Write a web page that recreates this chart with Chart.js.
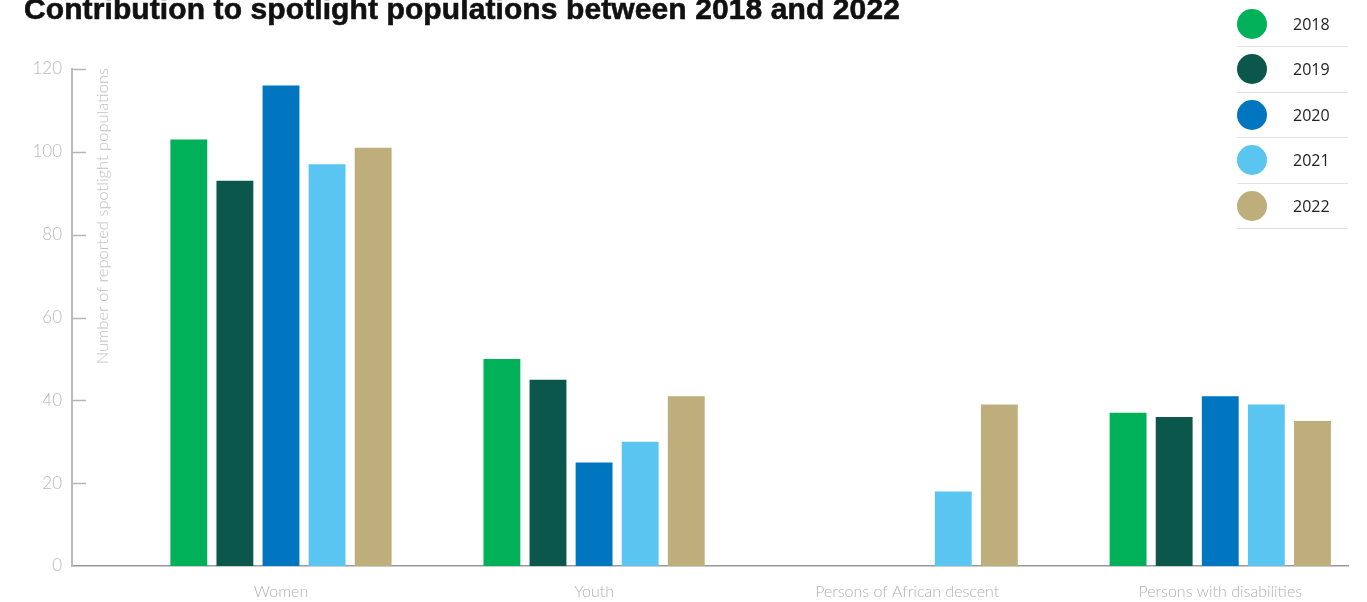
<!DOCTYPE html>
<html>
<head>
<meta charset="utf-8">
<script src="https://cdn.jsdelivr.net/npm/chart.js@4.4.1/dist/chart.umd.min.js"></script>
<style>
  html, body { margin: 0; padding: 0; background: #fff; width: 1367px; height: 602px; overflow: hidden; }
  #wrap { position: relative; width: 1367px; height: 602px; }
  #title { position: absolute; left: 24px; top: -6px; margin: 0; font-family: "Liberation Sans", Arial, sans-serif; font-weight: 700; font-size: 30px; line-height: 30px; letter-spacing: 0.1px; color: #111; white-space: nowrap; -webkit-text-stroke: 0.6px #111; }
  #legend { position: absolute; left: 1237px; top: 1.5px; width: 111px; }
  .lg-row { display: flex; align-items: center; height: 45.5px; border-bottom: 1.5px solid #e2e2de; box-sizing: border-box; }
  .lg-dot { width: 30px; height: 30px; border-radius: 50%; margin-right: 26px; }
  .lg-txt { font-family: "Open Sans", sans-serif; font-size: 16px; color: #222; }
</style>
</head>
<body>
<div id="wrap">
  <canvas id="c" width="1367" height="602"></canvas>
  <h1 id="title">Contribution to spotlight populations between 2018 and 2022</h1>
  <div id="legend"></div>
</div>
<script>
const categories = ['Women', 'Youth', 'Persons of African descent', 'Persons with disabilities'];
const years = ['2018', '2019', '2020', '2021', '2022'];
const values2018 = [103, 50, null, 37];
const values2019 = [93, 45, null, 36];
const values2020 = [116, 25, null, 41];
const values2021 = [97, 30, 18, 39];
const values2022 = [101, 41, 39, 35];
const yTicks = [0, 20, 40, 60, 80, 100, 120];
const colors = ['#00b159', '#0c574c', '#0075c0', '#5bc5f2', '#bdae7c'];
const yTitle = 'Number of reported spotlight populations';

const seriesValues = [values2018, values2019, values2020, values2021, values2022];

const datasets = years.map((y, k) => ({
  label: y,
  data: seriesValues[k].map((v, i) => ({ x: i, y: v })),
  backgroundColor: colors[k],
  borderWidth: 0,
  categoryPercentage: 0.736,
  barPercentage: 0.80
}));

const axisDecor = {
  id: 'axisDecor',
  afterDraw(chart) {
    const ctx = chart.ctx;
    const ys = chart.scales.y;
    const ca = chart.chartArea;
    ctx.save();
    ctx.strokeStyle = '#b5b5b5';
    ctx.lineWidth = 1.5;
    yTicks.forEach(t => {
      if (t === 0) return;
      const py = Math.round(ys.getPixelForValue(t)) + 0.5;
      ctx.beginPath();
      ctx.moveTo(ca.left, py);
      ctx.lineTo(ca.left + 14, py);
      ctx.stroke();
    });
    ctx.translate(ca.left + 31, ca.top - 1);
    ctx.rotate(-Math.PI / 2);
    ctx.fillStyle = '#c0c0c0';
    ctx.font = '300 16.5px Lato, "Open Sans", sans-serif';
    ctx.textAlign = 'right';
    ctx.textBaseline = 'middle';
    ctx.fillText(yTitle, 0, 0);
    ctx.restore();
  }
};

const chart = new Chart(document.getElementById('c'), {
  type: 'bar',
  data: { datasets },
  options: {
    responsive: false,
    animation: false,
    layout: { padding: { left: 0, right: 19, top: 69, bottom: 0 } },
    plugins: { legend: { display: false }, tooltip: { enabled: false }, title: { display: false } },
    scales: {
      x: {
        type: 'linear',
        offset: false,
        min: -0.6675,
        max: 3.408,
        grid: { display: false, drawTicks: false },
        border: { display: true, color: '#999', width: 1.5 },
        afterBuildTicks(axis) { axis.ticks = categories.map((c, i) => ({ value: i })); },
        afterFit(axis) { axis.height = 36; },
        ticks: {
          autoSkip: false,
          maxRotation: 0,
          padding: 16,
          color: '#b0b0b0',
          font: { family: 'Lato, "Open Sans", sans-serif', size: 16, weight: 300 },
          callback: (v) => categories[v]
        }
      },
      y: {
        min: 0,
        max: 120,
        afterBuildTicks(axis) { axis.ticks = yTicks.map(v => ({ value: v })); },
        afterFit(axis) { axis.width = 72; },
        grid: { display: false, drawTicks: false },
        border: { display: true, color: '#bbb', width: 2 },
        ticks: {
          padding: 10,
          color: '#b8b8b8',
          font: { family: 'Lato, "Open Sans", sans-serif', size: 17, weight: 300 }
        }
      }
    }
  },
  plugins: [axisDecor]
});

const lg = document.getElementById('legend');
chart.data.datasets.forEach(ds => {
  const row = document.createElement('div');
  row.className = 'lg-row';
  const dot = document.createElement('div');
  dot.className = 'lg-dot';
  dot.style.background = ds.backgroundColor;
  const txt = document.createElement('span');
  txt.className = 'lg-txt';
  txt.textContent = ds.label;
  row.appendChild(dot);
  row.appendChild(txt);
  lg.appendChild(row);
});
</script>
</body>
</html>
